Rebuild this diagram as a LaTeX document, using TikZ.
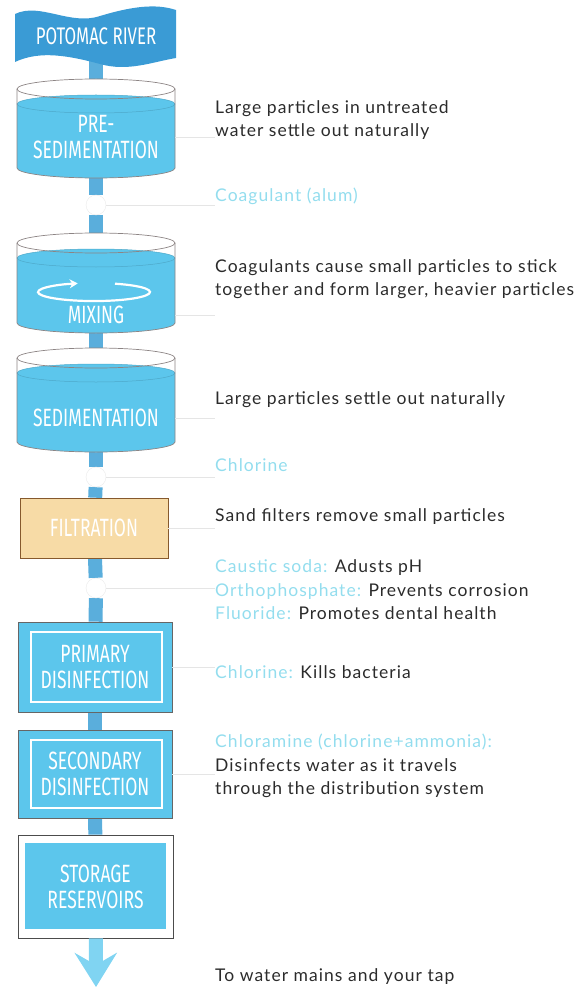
\documentclass[tikz,border=0pt]{standalone}
\usepackage{fontspec}
\setmainfont{Lato}[LetterSpace=6]
\newfontfamily\stagefont[FakeStretch=0.7]{Fira Sans}
\usepackage{xcolor}
\usepackage{tikz}
\usetikzlibrary{arrows.meta, backgrounds}
\definecolor{river}{HTML}{3A9BD5}
\definecolor{water}{HTML}{5CC6EC}
\definecolor{pipeblue}{HTML}{5AAEDC}
\definecolor{sand}{HTML}{F7DBA6}
\definecolor{chem}{HTML}{93DDEE}
\definecolor{ink}{HTML}{2B2B2B}
\definecolor{rimgrey}{HTML}{8C8484}
\definecolor{tapblue}{HTML}{80D4F2}
\tikzstyle{stage} = [text=white, align=center, font=\stagefont\fontsize{25}{26}\selectfont, inner sep=0pt]
\tikzstyle{tankbox} = [stage, minimum width=158pt]
\tikzstyle{filterbox} = [stage, rectangle, fill=sand, draw=brown!70!black, line width=0.6pt, minimum width=148pt, minimum height=60pt]
\tikzstyle{disbox} = [stage, rectangle, fill=water, draw=black!60, line width=0.6pt, minimum width=154pt, path picture={\draw[white, line width=1.5pt] ([shift={(13pt,-10pt)}]path picture bounding box.north west) rectangle ([shift={(-10pt,10pt)}]path picture bounding box.south east);}]
\tikzstyle{storebox} = [stage, rectangle, fill=white, draw=black!70, line width=0.8pt, minimum width=155pt, minimum height=103pt, path picture={\fill[water] ([shift={(7pt,-8pt)}]path picture bounding box.north west) rectangle ([shift={(-7pt,9pt)}]path picture bounding box.south east);}]
\tikzstyle{joint} = [circle, fill=white, draw=black!8, minimum size=20pt, inner sep=0pt]
\tikzstyle{desc} = [anchor=west, align=left, text=ink, font=\fontsize{17.5}{23.5}\selectfont, inner sep=0pt]
\tikzstyle{chemlabel} = [desc, text=chem]
\tikzstyle{leader} = [draw=black!10, line width=0.6pt]
\tikzstyle{pipe} = [line width=14pt, color=pipeblue]
\tikzstyle{outflow} = [line width=14pt, color=tapblue, -{Stealth[length=34pt, width=42pt, inset=12pt]}]
\tikzstyle{rim} = [draw=rimgrey, line width=0.7pt]
\tikzstyle{swirl} = [draw=white, line width=2.2pt, -{Stealth[length=8pt, width=9pt]}]
% open tank: #1 = rim centre y, #2 = bottom centre y
\newcommand{\tank}[2]{%
  \fill[white] (17,#1) arc[start angle=180, end angle=360, x radius=79, y radius=10] -- (175,#2) arc[start angle=0, end angle=180, x radius=79, y radius=10] -- cycle;
  \fill[water] (17,#1+15) arc[start angle=180, end angle=360, x radius=79, y radius=9] -- (175,#2) arc[start angle=0, end angle=180, x radius=79, y radius=10] -- cycle;
  \draw[water!85!black, line width=0.5pt] (96,#1+15) ellipse[x radius=79, y radius=9];
  \draw[rim] (96,#1) ellipse[x radius=79, y radius=10];
  \draw[rim] (17,#1) -- (17,#2) arc[start angle=180, end angle=0, x radius=79, y radius=10] -- (175,#1);
}

\begin{document}
\begin{tikzpicture}[x=1pt, y=-1pt]
\useasboundingbox (0,0) rectangle (587,987);

% banner and tanks
\fill[river] (15,14) .. controls (40,2) and (70,26) .. (100,16) .. controls (130,7) and (155,3) .. (176,10) -- (176,58) .. controls (152,62) and (128,72) .. (100,64) .. controls (70,56) and (40,50) .. (15,62) -- cycle;
\tank{89}{168}
\tank{243}{323}
\tank{358}{442}

\node (river) at (96,36) [stage, font=\stagefont\fontsize{24}{26}\selectfont] {POTOMAC RIVER};
\node (pre) at (96,137) [tankbox] {PRE-\\SEDIMENTATION};
\node (j1) at (96,205) [joint] {};
\node (mix) at (96,315) [tankbox] {MIXING};
\node (sed) at (96,418) [tankbox] {SEDIMENTATION};
\node (j2) at (96,477) [joint] {};
\node (filt) at (94,528) [filterbox] {FILTRATION};
\node (j3) at (96,588) [joint] {};
\node (prim) at (95,667) [disbox, minimum height=90pt] {PRIMARY\\DISINFECTION};
\node (sec) at (95,774) [disbox, minimum height=88pt] {SECONDARY\\DISINFECTION};
\node (store) at (95.5,886.5) [storebox] {STORAGE\\RESERVOIRS};
\coordinate (tap) at (96,987);

\draw[swirl] (115,283.7) arc[start angle=-68, end angle=253, x radius=56, y radius=9];

\node (dpre) at (215,120) [desc] {Large particles in untreated\\water settle out naturally};
\node (coag) at (215,196) [chemlabel] {Coagulant (alum)};
\node (dmix) at (215,279) [desc] {Coagulants cause small particles to stick\\together and form larger, heavier particles};
\node (dsed) at (215,400) [desc] {Large particles settle out naturally};
\node (chlor) at (215,465) [chemlabel] {Chlorine};
\node (dfilt) at (215,517) [desc] {Sand filters remove small particles};
\node (adds) at (215,590) [desc] {\textcolor{chem}{Caustic soda:} Adusts pH\\\textcolor{chem}{Orthophosphate:} Prevents corrosion\\\textcolor{chem}{Fluoride:} Promotes dental health};
\node (dprim) at (215,672) [desc] {\textcolor{chem}{Chlorine:} Kills bacteria};
\node (dsec) at (215,766) [desc] {\textcolor{chem}{Chloramine (chlorine+ammonia):}\\Disinfects water as it travels\\through the distribution system};
\node (dtap) at (215,977) [desc] {To water mains and your tap};

\begin{scope}[on background layer]
\draw[pipe] (river) -- (pre);
\draw[pipe] (pre) -- (j1);
\draw[pipe] (j1) -- (mix);
\draw[pipe] (mix) -- (sed);
\draw[pipe] (sed) -- (j2);
\draw[pipe] (j2) -- (filt);
\draw[pipe] (filt) -- (j3);
\draw[pipe] (j3) -- (prim);
\draw[pipe] (prim) -- (sec);
\draw[pipe] (sec) -- (store);
\end{scope}
\draw[outflow] (store) -- (tap);

\draw[leader] (pre.east) -- (pre.east -| dpre.west);
\draw[leader] (j1) -- (j1 -| coag.west);
\draw[leader] (mix.east) -- (mix.east -| dmix.west);
\draw[leader] (sed.east) -- (sed.east -| dsed.west);
\draw[leader] (j2) -- (j2 -| chlor.west);
\draw[leader] (filt.east) -- (filt.east -| dfilt.west);
\draw[leader] (j3) -- (j3 -| adds.west);
\draw[leader] (prim.east) -- (prim.east -| dprim.west);
\draw[leader] (sec.east) -- (sec.east -| dsec.west);

\end{tikzpicture}
\end{document}
